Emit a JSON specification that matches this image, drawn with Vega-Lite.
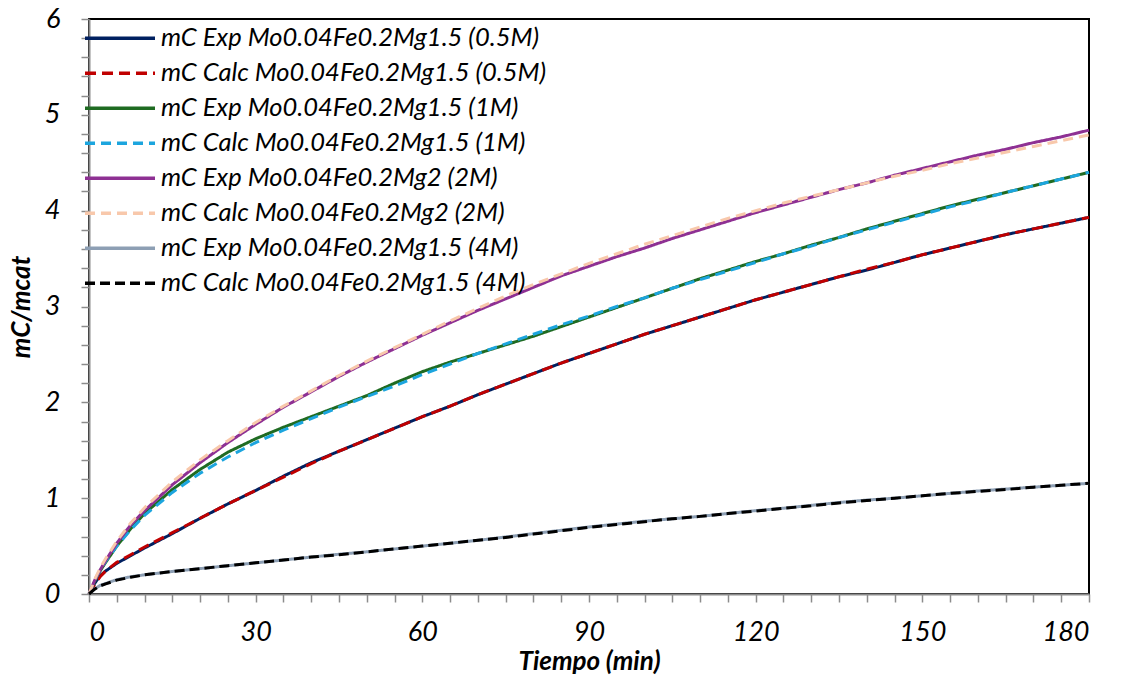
{
  "$schema": "https://vega.github.io/schema/vega-lite/v6.json",
  "autosize": {"type": "none"},
  "padding": {"left": 89, "top": 19, "right": 34, "bottom": 83},
  "width": 1000,
  "height": 575,
  "background": "white",
  "config": {
    "view": {"stroke": "black", "strokeWidth": 2},
    "axis": {
      "grid": false,
      "domainColor": "#8c8c8c",
      "domainWidth": 2,
      "tickColor": "#8c8c8c",
      "tickWidth": 1.5,
      "tickSize": 8,
      "labelFont": "Lato",
      "labelFontStyle": "italic",
      "labelFontSize": 27,
      "labelColor": "black",
      "labelOverlap": false,
      "titleFont": "Lato",
      "titleFontStyle": "italic",
      "titleFontWeight": "bold",
      "titleFontSize": 26,
      "titleColor": "black"
    },
    "legend": {
      "orient": "none",
      "legendX": -6,
      "legendY": 2,
      "title": null,
      "labelFont": "Lato",
      "labelFontStyle": "italic",
      "labelFontSize": 25.5,
      "labelColor": "black",
      "symbolType": "stroke",
      "symbolSize": 4900,
      "symbolStrokeWidth": 3.5,
      "labelOffset": 4,
      "rowPadding": 0,
      "clipHeight": 34.3,
      "labelLimit": 600
    }
  },
  "data": {
    "values": [
      {"s":"a","t":0,"v":0},{"s":"a","t":1,"v":0.11},{"s":"a","t":2,"v":0.19},{"s":"a","t":3,"v":0.24},{"s":"a","t":5,"v":0.32},{"s":"a","t":7.5,"v":0.40},{"s":"a","t":10,"v":0.48},{"s":"a","t":15,"v":0.63},{"s":"a","t":20,"v":0.79},{"s":"a","t":25,"v":0.94},{"s":"a","t":30,"v":1.08},{"s":"a","t":35,"v":1.23},{"s":"a","t":40,"v":1.37},{"s":"a","t":45,"v":1.49},{"s":"a","t":50,"v":1.61},{"s":"a","t":55,"v":1.73},{"s":"a","t":60,"v":1.85},{"s":"a","t":65,"v":1.96},{"s":"a","t":70,"v":2.08},{"s":"a","t":75,"v":2.19},{"s":"a","t":80,"v":2.30},{"s":"a","t":85,"v":2.41},{"s":"a","t":90,"v":2.51},{"s":"a","t":95,"v":2.61},{"s":"a","t":100,"v":2.71},{"s":"a","t":105,"v":2.80},{"s":"a","t":110,"v":2.89},{"s":"a","t":115,"v":2.98},{"s":"a","t":120,"v":3.07},{"s":"a","t":125,"v":3.15},{"s":"a","t":130,"v":3.23},{"s":"a","t":135,"v":3.31},{"s":"a","t":140,"v":3.38},{"s":"a","t":145,"v":3.46},{"s":"a","t":150,"v":3.54},{"s":"a","t":155,"v":3.61},{"s":"a","t":160,"v":3.68},{"s":"a","t":165,"v":3.75},{"s":"a","t":170,"v":3.81},{"s":"a","t":175,"v":3.87},{"s":"a","t":180,"v":3.93},
      {"s":"b","t":0,"v":0},{"s":"b","t":1,"v":0.10},{"s":"b","t":2,"v":0.18},{"s":"b","t":3,"v":0.24},{"s":"b","t":5,"v":0.33},{"s":"b","t":7.5,"v":0.41},{"s":"b","t":10,"v":0.49},{"s":"b","t":15,"v":0.64},{"s":"b","t":20,"v":0.79},{"s":"b","t":25,"v":0.94},{"s":"b","t":30,"v":1.08},{"s":"b","t":35,"v":1.22},{"s":"b","t":40,"v":1.36},{"s":"b","t":45,"v":1.49},{"s":"b","t":50,"v":1.61},{"s":"b","t":55,"v":1.73},{"s":"b","t":60,"v":1.85},{"s":"b","t":65,"v":1.96},{"s":"b","t":70,"v":2.08},{"s":"b","t":75,"v":2.19},{"s":"b","t":80,"v":2.30},{"s":"b","t":85,"v":2.41},{"s":"b","t":90,"v":2.51},{"s":"b","t":95,"v":2.61},{"s":"b","t":100,"v":2.71},{"s":"b","t":105,"v":2.80},{"s":"b","t":110,"v":2.89},{"s":"b","t":115,"v":2.98},{"s":"b","t":120,"v":3.07},{"s":"b","t":125,"v":3.15},{"s":"b","t":130,"v":3.23},{"s":"b","t":135,"v":3.31},{"s":"b","t":140,"v":3.39},{"s":"b","t":145,"v":3.46},{"s":"b","t":150,"v":3.54},{"s":"b","t":155,"v":3.61},{"s":"b","t":160,"v":3.68},{"s":"b","t":165,"v":3.75},{"s":"b","t":170,"v":3.81},{"s":"b","t":175,"v":3.87},{"s":"b","t":180,"v":3.93},
      {"s":"c","t":0,"v":0},{"s":"c","t":1,"v":0.13},{"s":"c","t":2,"v":0.24},{"s":"c","t":3,"v":0.33},{"s":"c","t":5,"v":0.50},{"s":"c","t":7.5,"v":0.68},{"s":"c","t":10,"v":0.84},{"s":"c","t":15,"v":1.09},{"s":"c","t":20,"v":1.30},{"s":"c","t":25,"v":1.48},{"s":"c","t":30,"v":1.62},{"s":"c","t":35,"v":1.74},{"s":"c","t":40,"v":1.85},{"s":"c","t":45,"v":1.96},{"s":"c","t":50,"v":2.07},{"s":"c","t":55,"v":2.20},{"s":"c","t":60,"v":2.32},{"s":"c","t":65,"v":2.42},{"s":"c","t":70,"v":2.51},{"s":"c","t":75,"v":2.60},{"s":"c","t":80,"v":2.69},{"s":"c","t":85,"v":2.79},{"s":"c","t":90,"v":2.89},{"s":"c","t":95,"v":2.99},{"s":"c","t":100,"v":3.09},{"s":"c","t":105,"v":3.19},{"s":"c","t":110,"v":3.29},{"s":"c","t":115,"v":3.38},{"s":"c","t":120,"v":3.47},{"s":"c","t":125,"v":3.55},{"s":"c","t":130,"v":3.64},{"s":"c","t":135,"v":3.72},{"s":"c","t":140,"v":3.81},{"s":"c","t":145,"v":3.89},{"s":"c","t":150,"v":3.97},{"s":"c","t":155,"v":4.05},{"s":"c","t":160,"v":4.12},{"s":"c","t":165,"v":4.19},{"s":"c","t":170,"v":4.26},{"s":"c","t":175,"v":4.33},{"s":"c","t":180,"v":4.40},
      {"s":"d","t":0,"v":0},{"s":"d","t":1,"v":0.14},{"s":"d","t":2,"v":0.25},{"s":"d","t":3,"v":0.34},{"s":"d","t":5,"v":0.50},{"s":"d","t":7.5,"v":0.67},{"s":"d","t":10,"v":0.82},{"s":"d","t":15,"v":1.06},{"s":"d","t":20,"v":1.26},{"s":"d","t":25,"v":1.43},{"s":"d","t":30,"v":1.58},{"s":"d","t":35,"v":1.71},{"s":"d","t":40,"v":1.83},{"s":"d","t":45,"v":1.95},{"s":"d","t":50,"v":2.06},{"s":"d","t":55,"v":2.17},{"s":"d","t":60,"v":2.29},{"s":"d","t":65,"v":2.40},{"s":"d","t":70,"v":2.51},{"s":"d","t":75,"v":2.61},{"s":"d","t":80,"v":2.71},{"s":"d","t":85,"v":2.81},{"s":"d","t":90,"v":2.90},{"s":"d","t":95,"v":3.00},{"s":"d","t":100,"v":3.09},{"s":"d","t":105,"v":3.19},{"s":"d","t":110,"v":3.28},{"s":"d","t":115,"v":3.37},{"s":"d","t":120,"v":3.46},{"s":"d","t":125,"v":3.55},{"s":"d","t":130,"v":3.63},{"s":"d","t":135,"v":3.72},{"s":"d","t":140,"v":3.80},{"s":"d","t":145,"v":3.88},{"s":"d","t":150,"v":3.96},{"s":"d","t":155,"v":4.04},{"s":"d","t":160,"v":4.11},{"s":"d","t":165,"v":4.19},{"s":"d","t":170,"v":4.26},{"s":"d","t":175,"v":4.33},{"s":"d","t":180,"v":4.40},
      {"s":"e","t":0,"v":0},{"s":"e","t":1,"v":0.14},{"s":"e","t":2,"v":0.25},{"s":"e","t":3,"v":0.35},{"s":"e","t":5,"v":0.53},{"s":"e","t":7.5,"v":0.72},{"s":"e","t":10,"v":0.87},{"s":"e","t":15,"v":1.14},{"s":"e","t":20,"v":1.37},{"s":"e","t":25,"v":1.58},{"s":"e","t":30,"v":1.77},{"s":"e","t":35,"v":1.95},{"s":"e","t":40,"v":2.11},{"s":"e","t":45,"v":2.27},{"s":"e","t":50,"v":2.42},{"s":"e","t":55,"v":2.56},{"s":"e","t":60,"v":2.70},{"s":"e","t":65,"v":2.83},{"s":"e","t":70,"v":2.96},{"s":"e","t":75,"v":3.08},{"s":"e","t":80,"v":3.20},{"s":"e","t":85,"v":3.32},{"s":"e","t":90,"v":3.42},{"s":"e","t":95,"v":3.52},{"s":"e","t":100,"v":3.61},{"s":"e","t":105,"v":3.71},{"s":"e","t":110,"v":3.80},{"s":"e","t":115,"v":3.89},{"s":"e","t":120,"v":3.98},{"s":"e","t":125,"v":4.06},{"s":"e","t":130,"v":4.14},{"s":"e","t":135,"v":4.22},{"s":"e","t":140,"v":4.29},{"s":"e","t":145,"v":4.37},{"s":"e","t":150,"v":4.44},{"s":"e","t":155,"v":4.51},{"s":"e","t":160,"v":4.58},{"s":"e","t":165,"v":4.64},{"s":"e","t":170,"v":4.71},{"s":"e","t":175,"v":4.77},{"s":"e","t":180,"v":4.84},
      {"s":"f","t":0,"v":0},{"s":"f","t":1,"v":0.15},{"s":"f","t":2,"v":0.27},{"s":"f","t":3,"v":0.37},{"s":"f","t":5,"v":0.55},{"s":"f","t":7.5,"v":0.74},{"s":"f","t":10,"v":0.90},{"s":"f","t":15,"v":1.17},{"s":"f","t":20,"v":1.40},{"s":"f","t":25,"v":1.60},{"s":"f","t":30,"v":1.79},{"s":"f","t":35,"v":1.96},{"s":"f","t":40,"v":2.12},{"s":"f","t":45,"v":2.28},{"s":"f","t":50,"v":2.43},{"s":"f","t":55,"v":2.57},{"s":"f","t":60,"v":2.71},{"s":"f","t":65,"v":2.85},{"s":"f","t":70,"v":2.98},{"s":"f","t":75,"v":3.11},{"s":"f","t":80,"v":3.23},{"s":"f","t":85,"v":3.34},{"s":"f","t":90,"v":3.45},{"s":"f","t":95,"v":3.55},{"s":"f","t":100,"v":3.65},{"s":"f","t":105,"v":3.74},{"s":"f","t":110,"v":3.83},{"s":"f","t":115,"v":3.92},{"s":"f","t":120,"v":4.00},{"s":"f","t":125,"v":4.08},{"s":"f","t":130,"v":4.15},{"s":"f","t":135,"v":4.22},{"s":"f","t":140,"v":4.29},{"s":"f","t":145,"v":4.36},{"s":"f","t":150,"v":4.42},{"s":"f","t":155,"v":4.49},{"s":"f","t":160,"v":4.55},{"s":"f","t":165,"v":4.61},{"s":"f","t":170,"v":4.67},{"s":"f","t":175,"v":4.73},{"s":"f","t":180,"v":4.79},
      {"s":"g","t":0,"v":0},{"s":"g","t":1,"v":0.05},{"s":"g","t":2,"v":0.09},{"s":"g","t":3,"v":0.11},{"s":"g","t":5,"v":0.15},{"s":"g","t":7.5,"v":0.18},{"s":"g","t":10,"v":0.20},{"s":"g","t":15,"v":0.235},{"s":"g","t":20,"v":0.265},{"s":"g","t":25,"v":0.295},{"s":"g","t":30,"v":0.325},{"s":"g","t":35,"v":0.355},{"s":"g","t":40,"v":0.385},{"s":"g","t":45,"v":0.415},{"s":"g","t":50,"v":0.44},{"s":"g","t":55,"v":0.47},{"s":"g","t":60,"v":0.50},{"s":"g","t":65,"v":0.53},{"s":"g","t":70,"v":0.56},{"s":"g","t":75,"v":0.595},{"s":"g","t":80,"v":0.63},{"s":"g","t":85,"v":0.665},{"s":"g","t":90,"v":0.70},{"s":"g","t":95,"v":0.73},{"s":"g","t":100,"v":0.76},{"s":"g","t":105,"v":0.785},{"s":"g","t":110,"v":0.81},{"s":"g","t":115,"v":0.84},{"s":"g","t":120,"v":0.87},{"s":"g","t":125,"v":0.895},{"s":"g","t":130,"v":0.925},{"s":"g","t":135,"v":0.955},{"s":"g","t":140,"v":0.98},{"s":"g","t":145,"v":1.00},{"s":"g","t":150,"v":1.025},{"s":"g","t":155,"v":1.05},{"s":"g","t":160,"v":1.075},{"s":"g","t":165,"v":1.095},{"s":"g","t":170,"v":1.115},{"s":"g","t":175,"v":1.135},{"s":"g","t":180,"v":1.155},
      {"s":"h","t":0,"v":0},{"s":"h","t":1,"v":0.05},{"s":"h","t":2,"v":0.085},{"s":"h","t":3,"v":0.105},{"s":"h","t":5,"v":0.145},{"s":"h","t":7.5,"v":0.175},{"s":"h","t":10,"v":0.20},{"s":"h","t":15,"v":0.235},{"s":"h","t":20,"v":0.265},{"s":"h","t":25,"v":0.295},{"s":"h","t":30,"v":0.325},{"s":"h","t":35,"v":0.355},{"s":"h","t":40,"v":0.385},{"s":"h","t":45,"v":0.41},{"s":"h","t":50,"v":0.44},{"s":"h","t":55,"v":0.47},{"s":"h","t":60,"v":0.50},{"s":"h","t":65,"v":0.53},{"s":"h","t":70,"v":0.56},{"s":"h","t":75,"v":0.59},{"s":"h","t":80,"v":0.625},{"s":"h","t":85,"v":0.66},{"s":"h","t":90,"v":0.695},{"s":"h","t":95,"v":0.725},{"s":"h","t":100,"v":0.755},{"s":"h","t":105,"v":0.785},{"s":"h","t":110,"v":0.81},{"s":"h","t":115,"v":0.84},{"s":"h","t":120,"v":0.865},{"s":"h","t":125,"v":0.895},{"s":"h","t":130,"v":0.92},{"s":"h","t":135,"v":0.95},{"s":"h","t":140,"v":0.975},{"s":"h","t":145,"v":1.00},{"s":"h","t":150,"v":1.025},{"s":"h","t":155,"v":1.05},{"s":"h","t":160,"v":1.07},{"s":"h","t":165,"v":1.09},{"s":"h","t":170,"v":1.115},{"s":"h","t":175,"v":1.135},{"s":"h","t":180,"v":1.155}
    ]
  },
  "mark": {"type": "line", "strokeWidth": 3, "clip": false},
  "encoding": {
    "x": {
      "field": "t",
      "type": "quantitative",
      "title": "Tiempo (min)",
      "scale": {"domain": [0, 180], "nice": false, "zero": false},
      "axis": {
        "values": [0,5,10,15,20,25,30,35,40,45,50,55,60,65,70,75,80,85,90,95,100,105,110,115,120,125,130,135,140,145,150,155,160,165,170,175,180],
        "format": ".0f",
        "labelExpr": "datum.value % 30 == 0 ? datum.label : ''",
        "labelPadding": 17,
        "titlePadding": 3
      }
    },
    "y": {
      "field": "v",
      "type": "quantitative",
      "title": "mC/mcat",
      "scale": {"domain": [0, 6], "nice": false},
      "axis": {
        "values": [0,0.2,0.4,0.6,0.8,1,1.2,1.4,1.6,1.8,2,2.2,2.4,2.6,2.8,3,3.2,3.4,3.6,3.8,4,4.2,4.4,4.6,4.8,5,5.2,5.4,5.6,5.8,6],
        "format": ".0f",
        "labelExpr": "datum.value % 1 == 0 ? datum.label : ''",
        "labelPadding": 21,
        "titlePadding": 10
      }
    },
    "color": {
      "field": "s",
      "type": "nominal",
      "scale": {
        "domain": ["a","b","c","d","e","f","g","h"],
        "range": ["#002060","#C00000","#1F6B22","#1CA5DE","#8E3093","#F8C8AB","#8D9FB4","#000000"]
      },
      "legend": {
        "labelExpr": "datum.value == 'a' ? 'mC Exp Mo0.04Fe0.2Mg1.5 (0.5M)' : datum.value == 'b' ? 'mC Calc Mo0.04Fe0.2Mg1.5 (0.5M)' : datum.value == 'c' ? 'mC Exp Mo0.04Fe0.2Mg1.5 (1M)' : datum.value == 'd' ? 'mC Calc Mo0.04Fe0.2Mg1.5 (1M)' : datum.value == 'e' ? 'mC Exp Mo0.04Fe0.2Mg2 (2M)' : datum.value == 'f' ? 'mC Calc Mo0.04Fe0.2Mg2 (2M)' : datum.value == 'g' ? 'mC Exp Mo0.04Fe0.2Mg1.5 (4M)' : 'mC Calc Mo0.04Fe0.2Mg1.5 (4M)'"
      }
    },
    "strokeDash": {
      "field": "s",
      "type": "nominal",
      "scale": {
        "domain": ["a","b","c","d","e","f","g","h"],
        "range": [[1,0],[11,6],[1,0],[10,6],[1,0],[10,6],[1,0],[10,5]]
      },
      "legend": {
        "labelExpr": "datum.value == 'a' ? 'mC Exp Mo0.04Fe0.2Mg1.5 (0.5M)' : datum.value == 'b' ? 'mC Calc Mo0.04Fe0.2Mg1.5 (0.5M)' : datum.value == 'c' ? 'mC Exp Mo0.04Fe0.2Mg1.5 (1M)' : datum.value == 'd' ? 'mC Calc Mo0.04Fe0.2Mg1.5 (1M)' : datum.value == 'e' ? 'mC Exp Mo0.04Fe0.2Mg2 (2M)' : datum.value == 'f' ? 'mC Calc Mo0.04Fe0.2Mg2 (2M)' : datum.value == 'g' ? 'mC Exp Mo0.04Fe0.2Mg1.5 (4M)' : 'mC Calc Mo0.04Fe0.2Mg1.5 (4M)'"
      }
    },
    "order": {"field": "t", "type": "quantitative"}
  }
}
